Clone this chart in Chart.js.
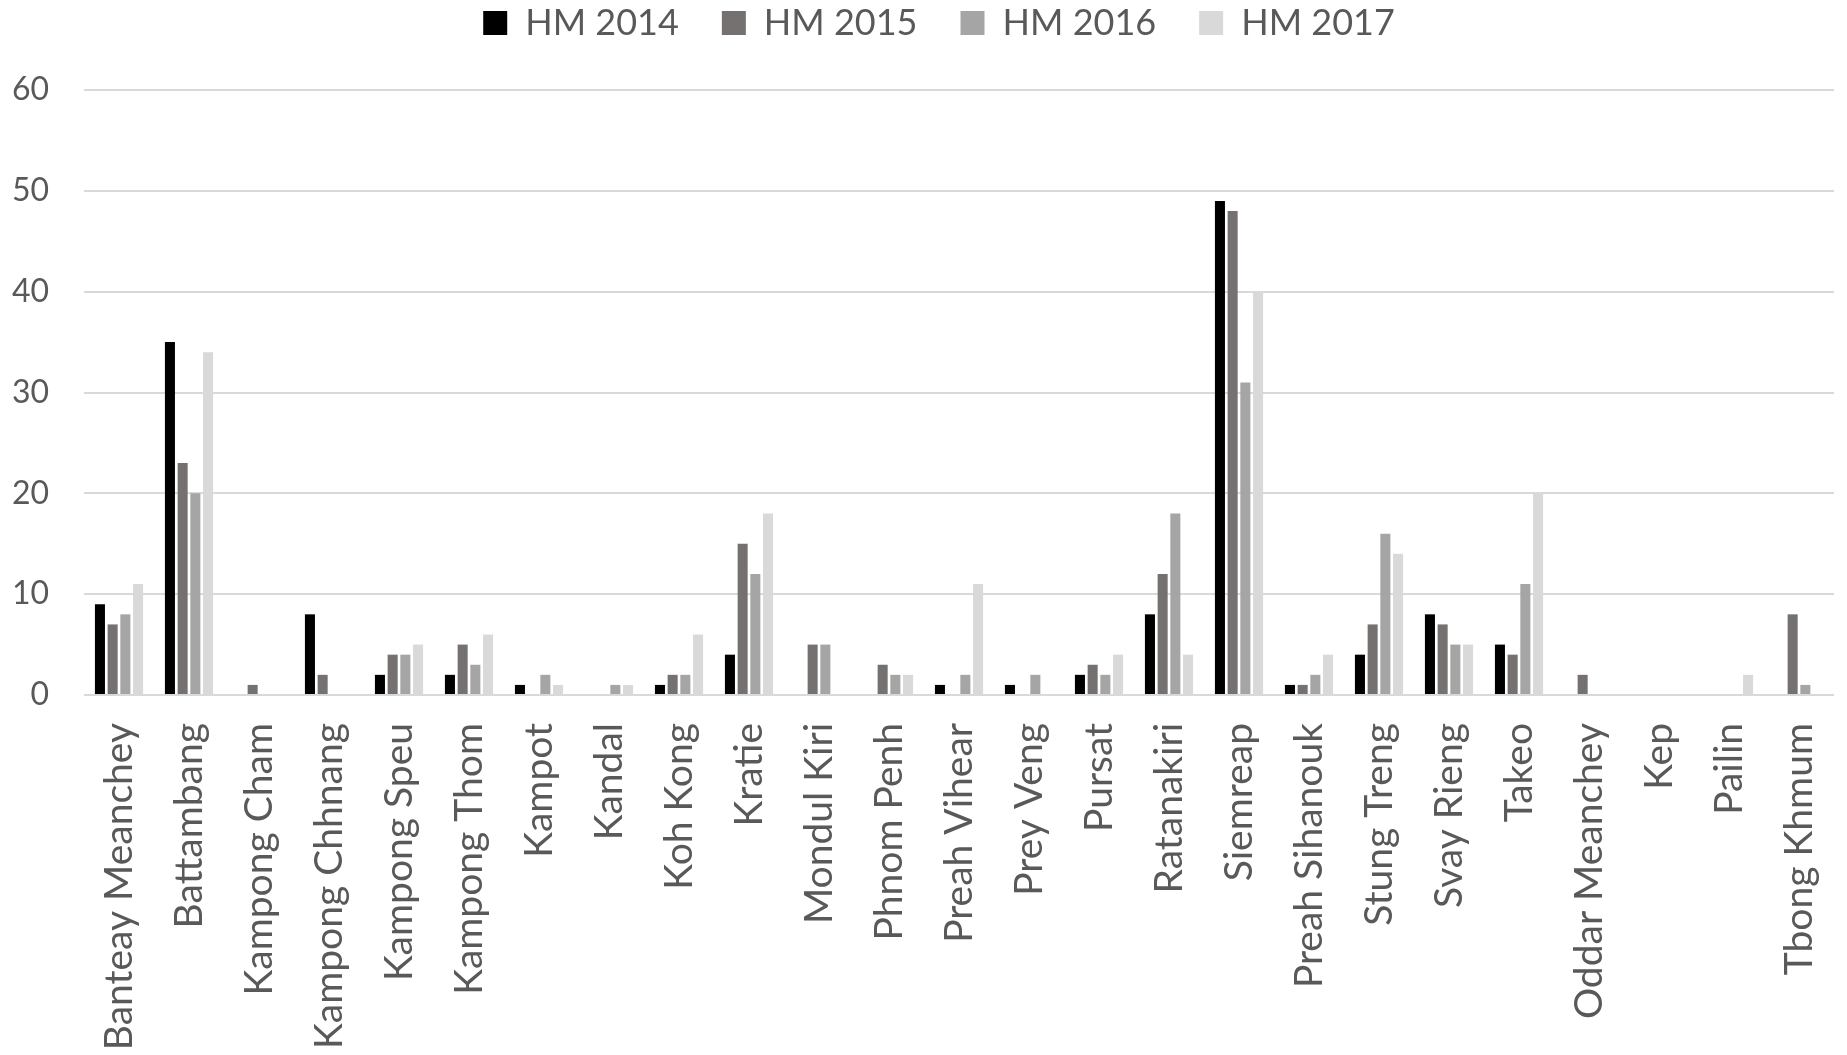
<!DOCTYPE html>
<html>
<head>
<meta charset="utf-8">
<script src="https://cdn.jsdelivr.net/npm/chart.js@4.4.1/dist/chart.umd.min.js"></script>
<style>
  html, body { margin: 0; padding: 0; background: #ffffff; }
  #wrap { width: 1847px; height: 1055px; position: relative; }
</style>
</head>
<body>
<div id="wrap"><canvas id="chart"></canvas></div>
<script>
// Provinces and yearly counts
const provinces = [
  'Banteay Meanchey', 'Battambang', 'Kampong Cham', 'Kampong Chhnang', 'Kampong Speu',
  'Kampong Thom', 'Kampot', 'Kandal', 'Koh Kong', 'Kratie', 'Mondul Kiri', 'Phnom Penh',
  'Preah Vihear', 'Prey Veng', 'Pursat', 'Ratanakiri', 'Siemreap', 'Preah Sihanouk',
  'Stung Treng', 'Svay Rieng', 'Takeo', 'Oddar Meanchey', 'Kep', 'Pailin', 'Tbong Khmum'
];
const seriesNames = ['HM 2014', 'HM 2015', 'HM 2016', 'HM 2017'];
const hm2014 = [9, 35, 0, 8, 2, 2, 1, 0, 1, 4, 0, 0, 1, 1, 2, 8, 49, 1, 4, 8, 5, 0, 0, 0, 0];
const hm2015 = [7, 23, 1, 2, 4, 5, 0, 0, 2, 15, 5, 3, 0, 0, 3, 12, 48, 1, 7, 7, 4, 2, 0, 0, 8];
const hm2016 = [8, 20, 0, 0, 4, 3, 2, 1, 2, 12, 5, 2, 2, 2, 2, 18, 31, 2, 16, 5, 11, 0, 0, 0, 1];
const hm2017 = [11, 34, 0, 0, 5, 6, 1, 1, 6, 18, 0, 2, 11, 0, 4, 4, 40, 4, 14, 5, 20, 0, 0, 2, 0];
const yTicks = [0, 10, 20, 30, 40, 50, 60];

const seriesValues = [hm2014, hm2015, hm2016, hm2017];
const seriesColors = ['#000000', '#767171', '#a5a5a5', '#d9d9d9'];
const textColor = '#595959';
const gridColor = '#d9d9d9';
const legendGap = 43;

// Fixed legend band height, and legend row placement within it
const legendSpacing = {
  id: 'legendSpacing',
  beforeInit(chart) {
    const origFit = chart.legend.fit;
    chart.legend.fit = function () {
      origFit.call(this);
      this.height = 90;
    };
  },
  afterLayout(chart) {
    const lg = chart.legend;
    lg.left += 22;
    lg.right += 22;
    lg.top -= legendGap - 5;
  }
};

new Chart(document.getElementById('chart'), {
  type: 'bar',
  data: {
    labels: provinces,
    datasets: seriesNames.map((name, i) => ({
      label: name,
      data: seriesValues[i],
      backgroundColor: seriesColors[i],
      borderWidth: 0,
      categoryPercentage: 0.726,
      barPercentage: 0.79
    }))
  },
  options: {
    responsive: true,
    maintainAspectRatio: false,
    animation: false,
    layout: { padding: { left: 0, right: 13, top: 0, bottom: 0 } },
    plugins: {
      legend: {
        position: 'top',
        align: 'center',
        labels: {
          boxWidth: 24,
          boxHeight: 24,
          padding: legendGap,
          color: textColor,
          font: { family: 'Lato', size: 36 }
        }
      },
      tooltip: { enabled: false }
    },
    scales: {
      x: {
        grid: { display: false, drawTicks: false },
        border: { display: false },
        ticks: {
          autoSkip: false,
          minRotation: 90,
          maxRotation: 90,
          padding: 28,
          color: textColor,
          font: { family: 'Lato', size: 39 }
        },
        afterFit(scale) {
          scale.height = 360;
          scale.paddingLeft = 0;
          scale.paddingRight = 0;
        }
      },
      y: {
        min: 0,
        max: 60,
        afterBuildTicks(scale) { scale.ticks = yTicks.map(v => ({ value: v })); },
        grid: { color: gridColor, lineWidth: 2, drawTicks: false },
        border: { display: false },
        ticks: {
          padding: 35,
          color: textColor,
          font: { family: 'Lato', size: 32 }
        },
        afterFit(scale) { scale.width = 84; }
      }
    }
  },
  plugins: [legendSpacing]
});
</script>
</body>
</html>
